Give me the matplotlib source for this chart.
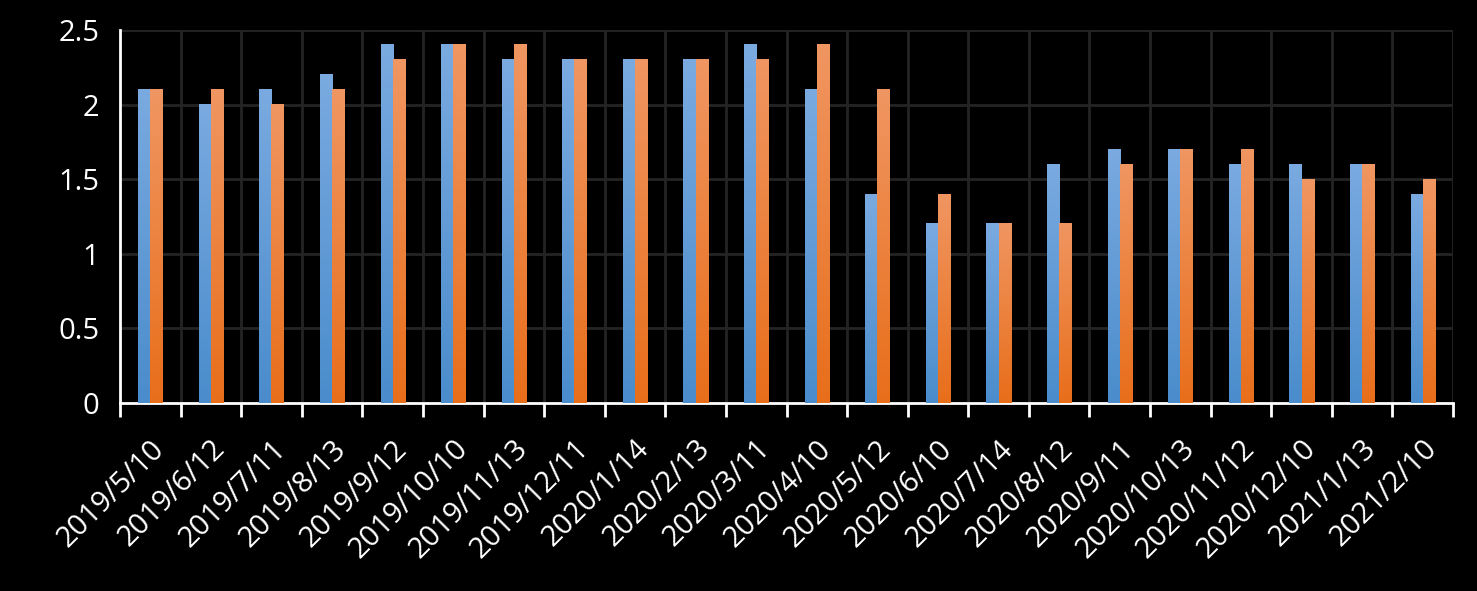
import matplotlib
matplotlib.use("Agg")
import matplotlib.pyplot as plt
import matplotlib.transforms as mtransforms
import numpy as np
from matplotlib.colors import LinearSegmentedColormap

categories = ["2019/5/10", "2019/6/12", "2019/7/11", "2019/8/13", "2019/9/12", "2019/10/10",
              "2019/11/13", "2019/12/11", "2020/1/14", "2020/2/13", "2020/3/11", "2020/4/10",
              "2020/5/12", "2020/6/10", "2020/7/14", "2020/8/12", "2020/9/11", "2020/10/13",
              "2020/11/12", "2020/12/10", "2021/1/13", "2021/2/10"]
series_blue = [2.1, 2.0, 2.1, 2.2, 2.4, 2.4, 2.3, 2.3, 2.3, 2.3, 2.4, 2.1,
               1.4, 1.2, 1.2, 1.6, 1.7, 1.7, 1.6, 1.6, 1.6, 1.4]
series_orange = [2.1, 2.1, 2.0, 2.1, 2.3, 2.4, 2.4, 2.3, 2.3, 2.3, 2.3, 2.4,
                 2.1, 1.4, 1.2, 1.2, 1.6, 1.7, 1.7, 1.5, 1.6, 1.5]
yticks = [0, 0.5, 1, 1.5, 2, 2.5]
ytick_labels = ["0", "0.5", "1", "1.5", "2", "2.5"]

plt.rcParams['font.family'] = ['Open Sans', 'DejaVu Sans']

fig = plt.figure(figsize=(14.77, 5.91), dpi=100, facecolor='black')
ax = fig.add_axes([120/1477, 1 - 403/591, (1453-120)/1477, (403-30)/591])
ax.set_facecolor('black')

n = len(categories)
x = np.arange(n)
bw = 0.2

cmap_blue = LinearSegmentedColormap.from_list('b', ['#4a8ccc', '#7aaae0'])
cmap_orange = LinearSegmentedColormap.from_list('o', ['#e86e1a', '#f09662'])
grad = np.linspace(0, 1, 256).reshape(-1, 1)

bars_b = ax.bar(x - bw/2, series_blue, width=bw, color='none', zorder=3)
bars_o = ax.bar(x + bw/2, series_orange, width=bw, color='none', zorder=3)
for bars, cm in ((bars_b, cmap_blue), (bars_o, cmap_orange)):
    for b in bars:
        x0, y0 = b.get_x(), b.get_y()
        w, h = b.get_width(), b.get_height()
        ax.imshow(grad, cmap=cm, origin='lower', aspect='auto',
                  extent=[x0, x0 + w, y0, y0 + h], zorder=3, interpolation='bilinear')

ax.set_xlim(-0.5, n - 0.5)
ax.set_ylim(0, 2.5)

ax.set_yticks(yticks)
ax.set_yticklabels(ytick_labels)
ax.set_xticks(x)
ax.set_xticklabels(categories, rotation=45, ha='right', va='center', rotation_mode='anchor')
ax.tick_params(axis='x', length=0, pad=30, colors='white', labelsize=21)
ax.tick_params(axis='y', length=0, pad=15, colors='white', labelsize=21)

offset = mtransforms.ScaledTranslation(10/100, 0, fig.dpi_scale_trans)
for lab in ax.get_xticklabels():
    lab.set_transform(lab.get_transform() + offset)

# gridlines
for yv in yticks[1:]:
    ax.axhline(yv, color='#242424', lw=2, zorder=1)
for xv in np.arange(0.5, n, 1.0):
    ax.axvline(xv, color='#242424', lw=2, zorder=1)

# category boundary ticks
ax.set_xticks(np.arange(-0.5, n, 1.0), minor=True)
ax.tick_params(axis='x', which='minor', length=10, width=2, color='white', direction='out')

for s in ('top', 'right'):
    ax.spines[s].set_visible(False)
for s in ('left', 'bottom'):
    ax.spines[s].set_color('white')
    ax.spines[s].set_linewidth(2)

fig.savefig('out.png', dpi=100, facecolor='black')
